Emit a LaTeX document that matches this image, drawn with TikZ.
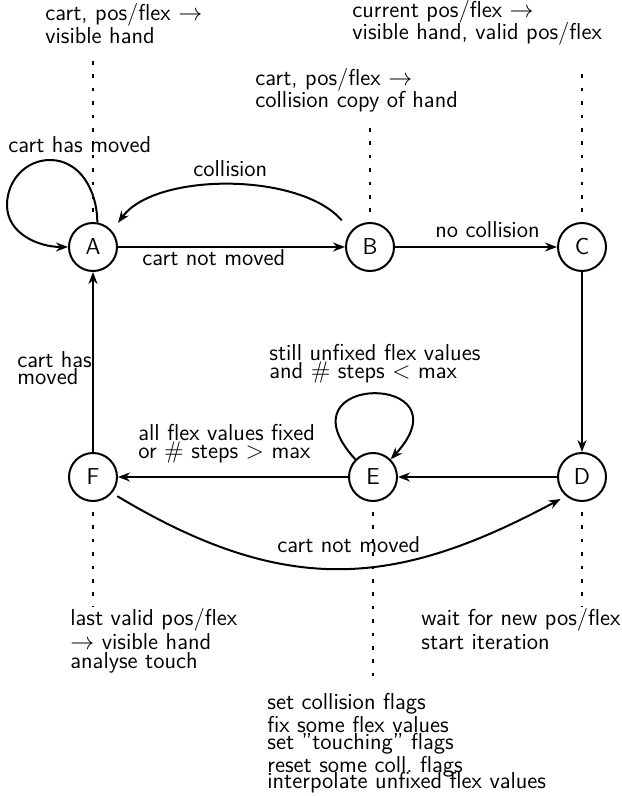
\documentclass[tikz,border=0pt]{standalone}
\usepackage{amsmath,amssymb}
\usepackage{tikz}
\usetikzlibrary{arrows.meta,calc}

\tikzset{
  state/.style={circle,draw,line width=1pt,minimum size=24pt,inner sep=0pt},
  edge/.style={-{Stealth[length=6pt,width=4.5pt,inset=2pt]},line width=1pt},
  dots/.style={line width=1.2pt,dash pattern=on 1.8pt off 4.9pt,shorten <=5pt},
  lbl/.style={anchor=base west,align=left,inner sep=0pt},
}

\begin{document}
\begin{tikzpicture}[x=0.5pt,y=-0.5pt,font=\sffamily\fontsize{11.5}{11.5}\selectfont]
  \useasboundingbox (0,0) rectangle (621,796);

  % Zustaende
  \node[state] (A) at (93,247) {A};
  \node[state] (B) at (370,247) {B};
  \node[state] (C) at (582,247) {C};
  \node[state] (D) at (582,477) {D};
  \node[state] (E) at (373,477) {E};
  \node[state] (F) at (93,477) {F};

  % Enden der gepunkteten Linien
  \coordinate (topA) at (93,52);
  \coordinate (topB) at (370,128);
  \coordinate (topC) at (582,65);
  \coordinate (botD) at (582,607);
  \coordinate (botE) at (373,685);
  \coordinate (botF) at (93,607);

  \draw[dots] (A.north) -- (topA);
  \draw[dots] (B.north) -- (topB);
  \draw[dots] (C.north) -- (topC);
  \draw[dots] (D.south) -- (botD);
  \draw[dots] (E.south) -- (botE);
  \draw[dots] (F.south) -- (botF);

  % Aktionen (Anker = Grundlinie der letzten Zeile)
  \node[lbl] (actA) at (45,44) {cart, pos/flex $\rightarrow$\\visible hand};
  \node[lbl] (actB) at (255,108) {cart, pos/flex $\rightarrow$\\[-0.5pt]collision copy of hand};
  \node[lbl] (actC) at (352,40) {current pos/flex $\rightarrow$\\[-0.5pt]visible hand, valid pos/flex};
  \node[lbl] (actF) at (70,668) {last valid pos/flex\\[0.5pt]$\rightarrow$ visible hand\\[-2pt]analyse touch};
  \node[lbl] (actD) at (421,649) {wait for new pos/flex\\[0.5pt]start iteration};
  \node[lbl] (actE) at (267,788) {set collision flags\\fix some flex values\\[-3pt]set ''touching'' flags\\reset some coll.\ flags\\[-3.5pt]interpolate unfixed flex values};

  % Uebergaenge
  \draw[edge] (A.80) to[out=90,in=0] (50,160) to[out=180,in=90] (7,205) to[out=-90,in=180] (A.west);
  \draw[edge] (A) -- (B);
  \draw[edge,shorten <=7pt,shorten >=5pt] (B.140) .. controls (300,172) and (155,172) .. (A.40);
  \draw[edge] (B) -- (C);
  \draw[edge] (C) -- (D);
  \draw[edge] (D) -- (E);
  \draw[edge] (E.135) .. controls (275,372) and (471,372) .. (E.45);
  \draw[edge] (E) -- (F);
  \draw[edge] (F) -- (A);
  \draw[edge,shorten <=3pt,shorten >=3pt] (F.-40) .. controls (290,600) and (400,585) .. (D.-130);

  % Bedingungen
  \node[lbl] (cAA) at (8,153) {cart has moved};
  \node[lbl] (cBA) at (193,177) {collision};
  \node[lbl] (cAB) at (142,265) {cart not moved};
  \node[lbl] (cBC) at (435,238) {no collision};
  \node[lbl] (cFA) at (17,384) {cart has\\[-3pt]moved};
  \node[lbl] (cEE) at (269,378) {still unfixed flex values\\[-2.5pt]and $\#$ steps $<$ max};
  \node[lbl] (cEF) at (138,458) {all flex values fixed\\[-2.5pt]or $\#$ steps $>$ max};
  \node[lbl] (cFD) at (277,552) {cart not moved};
\end{tikzpicture}
\end{document}
